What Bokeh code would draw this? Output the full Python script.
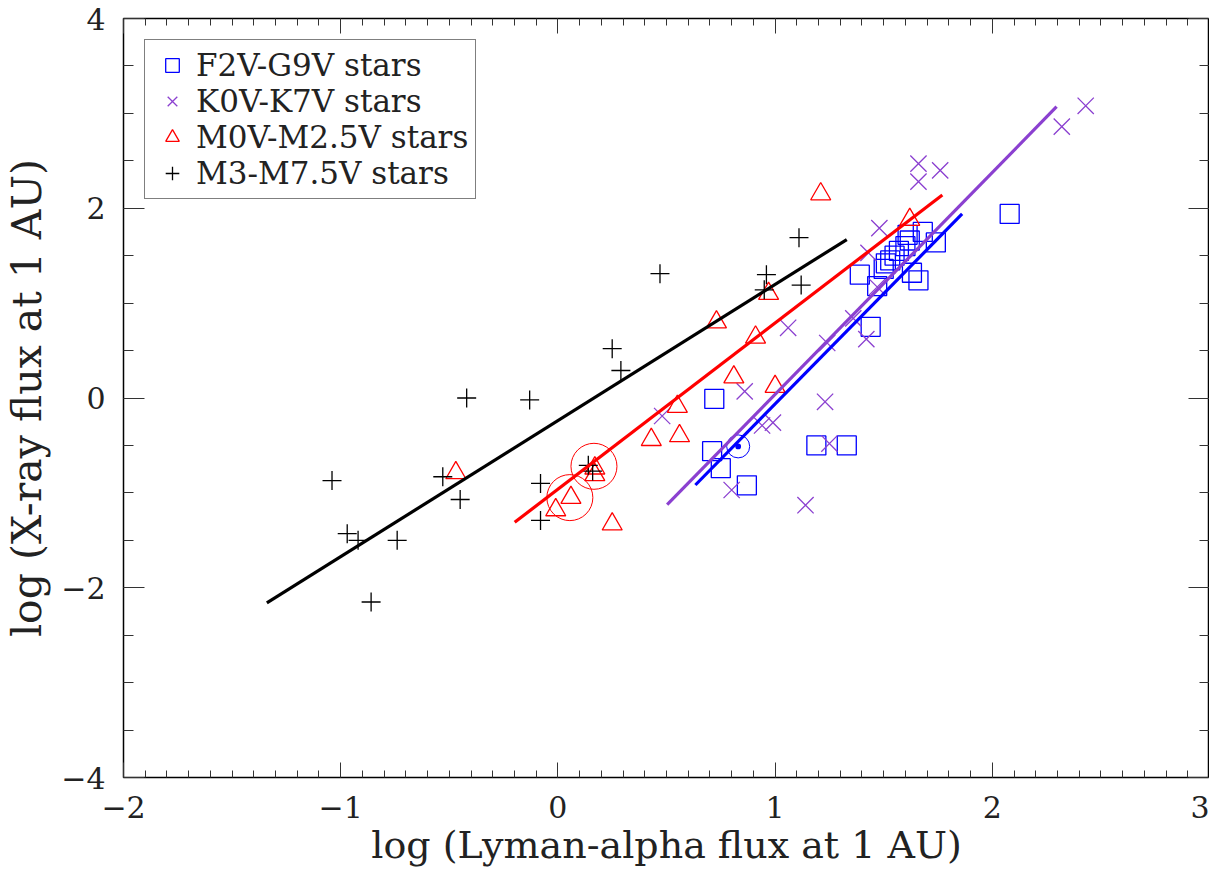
from bokeh.plotting import figure
from bokeh.models import LinearAxis, FixedTicker, Range1d, Legend, LegendItem
from bokeh.embed import file_html
from bokeh.resources import INLINE

# ---- data (log Lyman-alpha flux, log X-ray flux at 1 AU) ----
fg_x = [0.72, 0.71, 0.75, 0.87, 1.19, 1.33, 1.39, 1.44, 1.47, 1.50, 1.51, 1.53,
        1.55, 1.57, 1.60, 1.62, 1.61, 1.68, 1.74, 1.63, 1.66, 2.08]
fg_y = [-0.01, -0.56, -0.74, -0.92, -0.50, -0.50, 1.30, 0.75, 1.18, 1.36, 1.42, 1.45,
        1.50, 1.55, 1.60, 1.66, 1.72, 1.75, 1.64, 1.32, 1.24, 1.94]

k_x = [0.48, 0.80, 0.86, 0.94, 0.99, 1.06, 1.14, 1.23, 1.24, 1.25, 1.36, 1.42,
       1.43, 1.47, 1.48, 1.66, 1.66, 1.76, 2.32, 2.43]
k_y = [-0.19, -0.97, 0.07, -0.29, -0.26, 0.74, -1.13, -0.04, 0.58, -0.48, 0.84, 0.62,
       1.53, 1.17, 1.79, 2.28, 2.47, 2.40, 2.86, 3.08]

m0_x = [-0.47, -0.01, 0.06, 0.17, 0.17, 0.25, 0.43, 0.55, 0.56, 0.73, 0.81, 0.91,
        0.97, 1.00, 1.21, 1.62]
m0_y = [-0.79, -1.18, -1.05, -0.74, -0.81, -1.33, -0.44, -0.09, -0.40, 0.80, 0.22, 0.64,
        1.10, 0.12, 2.15, 1.88]

m3_x = [-1.04, -0.97, -0.92, -0.86, -0.74, -0.53, -0.45, -0.42, -0.13, -0.08, -0.08,
        0.14, 0.16, 0.25, 0.29, 0.47, 0.95, 0.96, 1.11, 1.12]
m3_y = [-0.87, -1.43, -1.50, -2.15, -1.50, -0.83, -1.07, 0.00, -0.02, -0.90, -1.29,
        -0.71, -0.77, 0.52, 0.29, 1.31, 1.14, 1.30, 1.69, 1.19]

# circled (highlighted) M-dwarfs and the Sun
ring_x = [0.055, 0.166]
ring_y = [-1.05, -0.72]
sun_x = [0.83]
sun_y = [-0.51]

# fitted relations (end points)
fit_fg_x = [0.633, 1.861]
fit_fg_y = [-0.917, 1.94]
fit_k_x = [0.503, 2.296]
fit_k_y = [-1.125, 3.07]
fit_m0_x = [-0.199, 1.77]
fit_m0_y = [-1.31, 2.14]
fit_m3_x = [-1.34, 1.33]
fit_m3_y = [-2.16, 1.67]

x_ticks = [-2, -1, 0, 1, 2, 3]
y_ticks = [-4, -2, 0, 2, 4]

labels = ["F2V-G9V stars", "K0V-K7V stars", "M0V-M2.5V stars", "M3-M7.5V stars"]

BLUE = "#0000ff"
PURPLE = "#8b40d0"
RED = "#ff0000"
BLACK = "#000000"
FONT = "DejaVu Serif"

p = figure(width=1209, height=870, x_range=Range1d(-2, 3), y_range=Range1d(-4, 4),
           output_backend="svg", toolbar_location=None,
           min_border_left=117, min_border_right=0, min_border_top=18, min_border_bottom=93)
p.grid.visible = False
p.background_fill_color = "white"
p.border_fill_color = "white"
p.outline_line_color = "black"
p.outline_line_width = 1.5

x_minor = [round(-2 + 0.1 * i, 2) for i in range(51)]
y_minor = [round(-4 + 0.5 * i, 2) for i in range(17)]


def style_axis(ax, ticks, minor, tick_in, minor_in, show_labels):
    ax.ticker = FixedTicker(ticks=ticks, minor_ticks=minor)
    ax.major_tick_in = tick_in
    ax.major_tick_out = 0
    ax.minor_tick_in = minor_in
    ax.minor_tick_out = 0
    ax.major_tick_line_color = "#333333"
    ax.minor_tick_line_color = "#333333"
    ax.axis_line_color = None
    if show_labels:
        ax.major_label_text_font = FONT
        ax.major_label_text_font_size = "30px"
        ax.major_label_text_color = "#222222"
        ax.axis_label_text_font = FONT
        ax.axis_label_text_font_style = "normal"
        ax.axis_label_text_color = "#222222"
    else:
        ax.major_label_text_color = None
        ax.major_label_text_font_size = "1px"
        ax.major_label_standoff = 0


xa = p.xaxis[0]
style_axis(xa, x_ticks, x_minor, 15, 7, True)
xa.axis_label = "log (Lyman-alpha flux at 1 AU)"
xa.axis_label_text_font_size = "38px"
xa.major_label_standoff = 18
xa.axis_label_standoff = 2

ya = p.yaxis[0]
style_axis(ya, y_ticks, y_minor, 21, 10, True)
ya.axis_label = "log (X-ray flux at 1 AU)"
ya.axis_label_text_font_size = "41px"
ya.major_label_standoff = 18
ya.axis_label_standoff = 7

top = LinearAxis()
style_axis(top, x_ticks, x_minor, 15, 7, False)
p.add_layout(top, "above")
right = LinearAxis()
style_axis(right, y_ticks, y_minor, 21, 10, False)
p.add_layout(right, "right")

r_fg = p.scatter(fg_x, fg_y, marker="square", size=19, fill_color=None,
                 line_color=BLUE, line_width=1.3)
r_k = p.scatter(k_x, k_y, marker="x", size=23, line_color=PURPLE, line_width=1.3)
r_m0 = p.scatter(m0_x, m0_y, marker="triangle", size=20, fill_color=None,
                 line_color=RED, line_width=1.3)
r_m3 = p.scatter(m3_x, m3_y, marker="cross", size=19, line_color=BLACK, line_width=1.3)

p.scatter(ring_x, ring_y, marker="circle", size=46, fill_color=None,
          line_color=RED, line_width=1)
p.scatter(sun_x, sun_y, marker="circle_dot", size=23, fill_color=None,
          line_color=BLUE, line_width=1)

p.line(fit_m3_x, fit_m3_y, line_color=BLACK, line_width=3.2)
p.line(fit_m0_x, fit_m0_y, line_color=RED, line_width=3.2)
p.line(fit_k_x, fit_k_y, line_color=PURPLE, line_width=3.2)
p.line(fit_fg_x, fit_fg_y, line_color=BLUE, line_width=3.2)

legend = Legend(items=[LegendItem(label=labels[0], renderers=[r_fg]),
                       LegendItem(label=labels[1], renderers=[r_k]),
                       LegendItem(label=labels[2], renderers=[r_m0]),
                       LegendItem(label=labels[3], renderers=[r_m3])],
                location="top_left")
legend.label_text_font = FONT
legend.label_text_font_size = "31px"
legend.label_text_color = "#222222"
legend.glyph_width = 40
legend.glyph_height = 34
legend.label_height = 30
legend.spacing = 0
legend.padding = 7
legend.margin = 21
legend.label_standoff = 4
legend.border_line_color = "black"
legend.border_line_width = 1
legend.background_fill_alpha = 1.0
p.add_layout(legend)

open("out.html", "w").write(file_html(p, INLINE))
